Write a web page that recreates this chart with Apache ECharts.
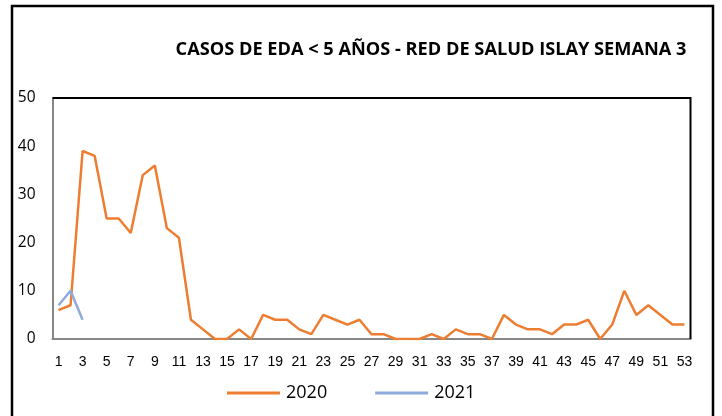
<!DOCTYPE html>
<html>
<head>
<meta charset="utf-8">
<script src="https://cdn.jsdelivr.net/npm/echarts@6/dist/echarts.min.js"></script>
<style>html,body{margin:0;padding:0;background:#fff;}#c{width:722px;height:416px;}</style>
</head>
<body>
<div id="c"></div>
<script>
var titleText = 'CASOS DE EDA < 5 AÑOS - RED DE SALUD ISLAY SEMANA 3';
var weeks = ['1','2','3','4','5','6','7','8','9','10','11','12','13','14','15','16','17','18','19','20','21','22','23','24','25','26','27','28','29','30','31','32','33','34','35','36','37','38','39','40','41','42','43','44','45','46','47','48','49','50','51','52','53'];
var values2020 = [6,7,39,38,25,25,22,34,36,23,21,4,2,0,0,2,0,5,4,4,2,1,5,4,3,4,1,1,0,0,0,1,0,2,1,1,0,5,3,2,2,1,3,3,4,0,3,10,5,7,5,3,3];
var values2021 = [7,10,4];
var yTicks = [0,10,20,30,40,50];

var chart = echarts.init(document.getElementById('c'), null, {renderer:'canvas'});
chart.setOption({
  animation: false,
  backgroundColor: '#ffffff',
  title: {
    text: titleText,
    left: 426, top: 36, textAlign: 'center',
    textStyle: {fontFamily: 'Open Sans', fontWeight: 'bold', fontSize: 18.2, color: '#000'}
  },
  legend: {
    left: 222, top: 379,
    itemWidth: 53, itemHeight: 3, itemGap: 48,
    icon: 'rect',
    textStyle: {fontFamily: 'Open Sans', fontSize: 18, color: '#000', padding: [0,0,0,1]},
    data: ['2020','2021']
  },
  grid: {left: 52.5, right: 31.5, top: 98, bottom: 77, containLabel: false},
  xAxis: {
    type: 'category', data: weeks, boundaryGap: true,
    axisLine: {show: true, lineStyle: {color: '#878787', width: 2}},
    axisTick: {show: false},
    axisLabel: {interval: 1, margin: 16, fontFamily: 'Liberation Sans', fontSize: 14, color: '#000'},
    splitLine: {show: false}
  },
  yAxis: {
    type: 'value', min: yTicks[0], max: yTicks[yTicks.length-1], interval: 10,
    axisLine: {show: true, lineStyle: {color: '#878787', width: 2}},
    axisTick: {show: false},
    axisLabel: {margin: 17, fontFamily: 'Open Sans', fontSize: 15.5, color: '#000'},
    splitLine: {show: false}
  },
  graphic: [
    {type: 'polyline', shape: {points: [[52.5,98],[690.5,98],[690.5,339]]}, style: {stroke: '#000', lineWidth: 2, fill: null}, z: 10},
    {type: 'rect', shape: {x: 12, y: 6, width: 701, height: 420}, style: {stroke: '#000', lineWidth: 2.5, fill: null}, z: 10}
  ],
  series: [
    {name: '2020', type: 'line', data: values2020, showSymbol: false, symbol: 'none',
     lineStyle: {color: '#ED7D31', width: 2.5}, itemStyle: {color: '#ED7D31'}},
    {name: '2021', type: 'line', data: values2021, showSymbol: false, symbol: 'none',
     lineStyle: {color: '#8FAADC', width: 2.5}, itemStyle: {color: '#8FAADC'}}
  ]
});
</script>
</body>
</html>
